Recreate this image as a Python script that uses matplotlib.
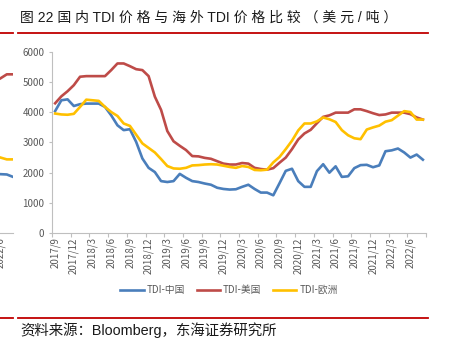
import numpy as np
import matplotlib.pyplot as plt
from matplotlib.lines import Line2D

plt.rcParams['font.family'] = ['Noto Sans CJK SC', 'DejaVu Sans']

# monthly prices, 2017/9 .. 2022/8 (USD/t)
tdi_cn = [4040, 4400, 4430, 4210, 4270, 4290, 4290, 4290, 4180, 3900,
          3570, 3410, 3440, 3020, 2470, 2160, 2020, 1720, 1690, 1720,
          1960, 1830, 1720, 1690, 1640, 1600, 1500, 1460, 1440, 1450,
          1530, 1600, 1460, 1340, 1340, 1250, 1650, 2060, 2130, 1720,
          1530, 1530, 2050, 2280, 2000, 2210, 1860, 1880, 2150, 2250,
          2260, 2180, 2240, 2710, 2740, 2800, 2670, 2500, 2600, 2430]
tdi_us = [4300, 4530, 4700, 4900, 5180, 5200, 5200, 5200, 5200, 5400,
          5620, 5620, 5530, 5430, 5400, 5200, 4520, 4080, 3380, 3040,
          2890, 2750, 2550, 2540, 2490, 2460, 2380, 2300, 2270, 2270,
          2320, 2300, 2160, 2120, 2100, 2150, 2330, 2500, 2780, 3100,
          3300, 3420, 3640, 3850, 3900, 3990, 3990, 3990, 4100, 4100,
          4040, 3970, 3910, 3930, 3990, 3990, 3990, 3940, 3830, 3760]
tdi_eu = [3960, 3930, 3920, 3950, 4180, 4420, 4400, 4380, 4180, 4010,
          3880, 3630, 3550, 3260, 2970, 2820, 2670, 2450, 2220, 2140,
          2130, 2160, 2240, 2250, 2270, 2280, 2270, 2230, 2190, 2160,
          2220, 2190, 2090, 2080, 2100, 2340, 2520, 2780, 3060, 3400,
          3630, 3630, 3700, 3830, 3770, 3680, 3410, 3240, 3140, 3110,
          3430, 3500, 3560, 3690, 3740, 3890, 4040, 4010, 3760, 3760]
tick_labels = ['2017/9', '2017/12', '2018/3', '2018/6', '2018/9', '2018/12',
               '2019/3', '2019/6', '2019/9', '2019/12', '2020/3', '2020/6',
               '2020/9', '2020/12', '2021/3', '2021/6', '2021/9', '2021/12',
               '2022/3', '2022/6']

# tail of the neighbouring chart, cut off at the left edge
nb_cn = [1950, 1940, 1860]
nb_us = [5130, 5260, 5260]
nb_eu = [2500, 2440, 2440]

c_cn = '#4A7EBB'
c_us = '#BE4B48'
c_eu = '#FFC000'
grey = '#595959'
W, H = 455, 342

fig = plt.figure(figsize=(W / 100, H / 100), dpi=100)

ax = fig.add_axes([52 / W, 109 / H, 374 / W, 181 / H])
x = np.arange(len(tdi_cn))
ax.plot(x, tdi_cn, color=c_cn, lw=1.9, label='TDI-中国')
ax.plot(x, tdi_us, color=c_us, lw=1.9, label='TDI-美国')
ax.plot(x, tdi_eu, color=c_eu, lw=1.9, label='TDI-欧洲')
ax.set_xlim(-0.5, len(x) - 0.5)
ax.set_ylim(0, 6000)
ax.set_yticks(range(0, 6001, 1000))
ax.tick_params(axis='y', labelsize=7, colors='#BFBFBF', labelcolor=grey,
               length=2.5, pad=3)
ax.set_xticks(np.arange(-0.5, len(x), 3))
ax.set_xticklabels([])
ax.set_xticks(np.arange(0, len(x), 3), minor=True)
ax.set_xticklabels(tick_labels, minor=True, rotation=90)
ax.tick_params(axis='x', which='major', colors='#BFBFBF', length=3)
ax.tick_params(axis='x', which='minor', length=0, labelsize=7,
               labelcolor=grey, pad=3)
for s in ['top', 'right']:
    ax.spines[s].set_visible(False)
for s in ['left', 'bottom']:
    ax.spines[s].set_color('#BFBFBF')

fig.legend(loc='center', bbox_to_anchor=(229 / W, 1 - 290 / H), ncol=3,
           frameon=False, fontsize=7, handlelength=2.4, handletextpad=0.3,
           columnspacing=1.2, labelcolor=grey)

# neighbour chart fragment
nb = fig.add_axes([-0.2, 109 / H, 0.2 + 12.7 / W, 181 / H])
xn = np.arange(len(nb_cn))
nb.plot(xn, nb_cn, color=c_cn, lw=1.9)
nb.plot(xn, nb_us, color=c_us, lw=1.9)
nb.plot(xn, nb_eu, color=c_eu, lw=1.9)
nb.set_ylim(0, 6000)
span = (0.2 * W + 12.7) / 6.2
nb.set_xlim(1.95 - span, 1.95)
nb.set_yticks([])
nb.set_xticks([0])
nb.set_xticklabels(['2022/6'], rotation=90)
nb.tick_params(axis='x', length=0, labelsize=7, labelcolor=grey, pad=3)
for s in ['top', 'right', 'left']:
    nb.spines[s].set_visible(False)
nb.spines['bottom'].set_color('#BFBFBF')

fam = ['Liberation Sans', 'Noto Sans CJK SC']
fig.text(20 / W, 1 - 18 / H,
         '图 22 国 内 TDI 价 格 与 海 外 TDI 价 格 比 较 （ 美 元 / 吨 ）',
         fontsize=10, color='#1a1a1a', va='center', ha='left', family=fam)
fig.text(20 / W, 1 - 330 / H, '资料来源：Bloomberg，东海证券研究所',
         fontsize=10.4, color='#1a1a1a', va='center', ha='left', family=fam)

red = '#C00000'
for yy in [33, 318]:
    fig.add_artist(Line2D([0, 13 / W], [1 - yy / H] * 2, color=red, lw=1.3))
    fig.add_artist(Line2D([18 / W, 428 / W], [1 - yy / H] * 2, color=red, lw=1.3))

fig.savefig('out.png', dpi=100)
